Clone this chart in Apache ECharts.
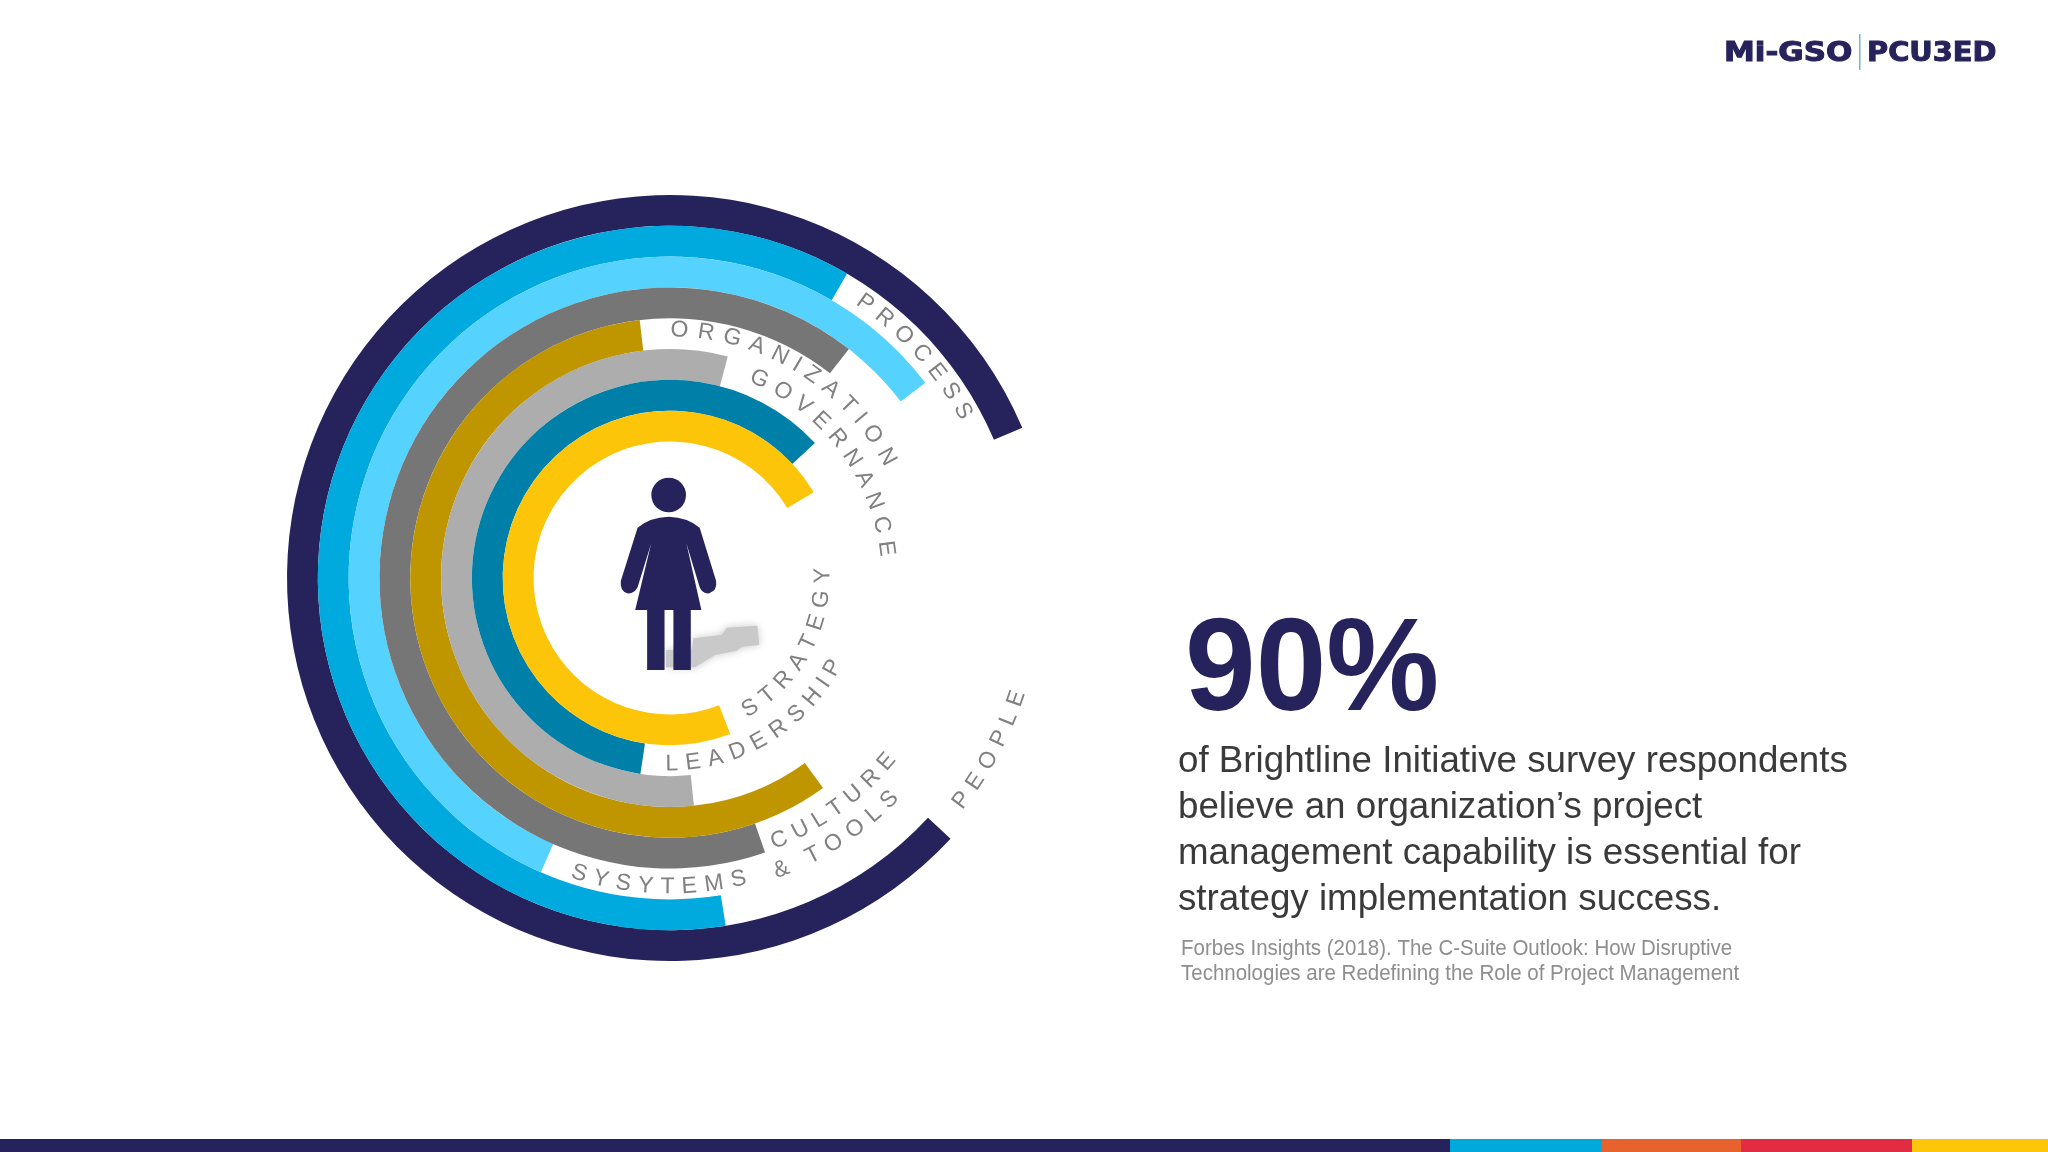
<!DOCTYPE html>
<html><head><meta charset="utf-8">
<style>html,body{margin:0;padding:0;background:#fff}#c{width:2048px;height:1152px}</style>
<script src="https://cdn.jsdelivr.net/npm/echarts@6/dist/echarts.min.js"></script>
</head><body><div id="c"></div>
<script>
// Rings, outermost first. Angles are degrees clockwise from 3 o'clock.
const ringNames  = ['People','Process','Systems','Culture & Tools','Organization','Governance','Leadership','Strategy'];
const ringStart  = [42.9, 80.9, 113.7, 70.9, 53.9, 84.0, 98.6, 68.9];
const ringEnd    = [336.9, 300.2, 322.6, 308.0, 263.3, 284.6, 317.0, 329.2];
const ringColors = ['#26235c','#00a9de','#55d2fe','#767676','#c09600','#adadad','#0080a8','#fcc50a'];

// Curved labels: text, ring radius, angle of first letter, angle of last letter
const arcTexts = ['PEOPLE','PROCESS','SYSYTEMS','CULTURE','& TOOLS','ORGANIZATION','GOVERNANCE','STRATEGY','LEADERSHIP'];
const arcRadii = [367, 337, 309, 284, 312, 248, 218, 153, 186];
const arcFrom  = [37.3, 305.4, 107.1, 67.4, 69.1, 272.2, 294.2, 58.4, 89.4];
const arcTo    = [19.2, 330.3, 77.2, 40.3, 45.3, 330.8, 352.2, -1.0, 28.9];

const bigStat = '90%';
const bodyLines = ['of Brightline Initiative survey respondents','believe an organization\u2019s project','management capability is essential for','strategy implementation success.'];
const sourceLines = ['Forbes Insights (2018). The C-Suite Outlook: How Disruptive','Technologies are Redefining the Role of Project Management'];
const footerStops = [0,1450,1602,1741,1912,2048];
const footerColors = ['#26235c','#00a9dc','#e8622e','#e12c42','#fdc60a'];

const ARC_FONT = '23px "Liberation Sans"';
const mc = document.createElement('canvas').getContext('2d');
mc.font = ARC_FONT;
const letters = [];
arcTexts.forEach((t,i)=>{
  const ch = t.split('');
  const w = ch.map(c=>mc.measureText(c).width);
  const seg = []; let tot = 0;
  for(let k=0;k<ch.length-1;k++){ const s=(w[k]+w[k+1])/2+4; seg.push(s); tot+=s; }
  let acc = 0;
  ch.forEach((c,k)=>{
    const a = arcFrom[i]+(arcTo[i]-arcFrom[i])*(acc/tot);
    if(c!==' ') letters.push({r:arcRadii[i],a:a,c:c,up:arcTo[i]>arcFrom[i]});
    if(k<seg.length) acc+=seg[k];
  });
});

const chart = echarts.init(document.getElementById('c'),null,{renderer:'canvas'});
const graphic = [];
footerColors.forEach((col,i)=>graphic.push({type:'rect',silent:true,shape:{x:footerStops[i],y:1139,width:footerStops[i+1]-footerStops[i],height:13},style:{fill:col}}));
graphic.push({type:'text',x:1185,y:739,scaleY:1.03,style:{text:bigStat,x:0,y:0,verticalAlign:'bottom',fontFamily:'Liberation Sans',fontWeight:'bold',fontSize:127,fill:'#26235c'}});
bodyLines.forEach((l,i)=>graphic.push({type:'text',x:1178,y:780.5+i*46,scaleX:0.993,style:{text:l,x:0,y:0,verticalAlign:'bottom',fontFamily:'Liberation Sans',fontSize:37,fill:'#3a3a3a'}}));
sourceLines.forEach((l,i)=>graphic.push({type:'text',x:1181,y:960+i*25.5,scaleX:0.953,style:{text:l,x:0,y:0,verticalAlign:'bottom',fontFamily:'Liberation Sans',fontSize:21.5,fill:'#8e8e8e'}}));
// Logo
graphic.push({type:'text',x:1724,y:67.5,scaleX:1.19,style:{text:'Mi-GSO',x:0,y:0,verticalAlign:'bottom',fontFamily:'DejaVu Sans',fontWeight:'bold',fontSize:26,fill:'#26235c',stroke:'#26235c',lineWidth:1}});
graphic.push({type:'rect',shape:{x:1859,y:34,width:1.5,height:36},style:{fill:'#6fb8c9'}});
graphic.push({type:'text',x:1867,y:67.5,scaleX:1.11,style:{text:'PCU3ED',x:0,y:0,verticalAlign:'bottom',fontFamily:'DejaVu Sans',fontWeight:'bold',fontSize:26,fill:'#26235c',stroke:'#26235c',lineWidth:1}});

const personPath = 'M175 203 Q210 172 266 170 Q322 172 357 203 L405 362 Q410 390 385 400 Q365 402 357 382 L318 250 L362 450 L331 450 L331 630 L280 630 L280 450 L254 450 L254 630 L203 630 L203 450 L168 450 L215 250 L175 382 Q165 402 145 400 Q122 392 126 362 Z';
const shadowPath = 'M258 570 L335 570 L340 535 L425 525 L440 503 L532 497 L538 555 L485 560 L470 572 L405 585 L345 622 L258 622 Z';

chart.setOption({
  backgroundColor:'#ffffff',
  animation:false,
  polar:[
    {center:[670,578],radius:[136.5,383]},
    {center:[670,578],radius:[0,383]}
  ],
  angleAxis:[
    {polarIndex:0,type:'value',min:0,max:360,startAngle:0,clockwise:true,show:false},
    {polarIndex:1,type:'value',min:0,max:360,startAngle:0,clockwise:true,show:false}
  ],
  radiusAxis:[
    {polarIndex:0,type:'category',data:ringNames,inverse:true,show:false},
    {polarIndex:1,type:'value',min:0,max:383,show:false}
  ],
  series:[
    {type:'bar',coordinateSystem:'polar',polarIndex:0,stack:'ring',name:'offset',barWidth:'100%',silent:true,
      itemStyle:{color:'rgba(0,0,0,0)'},data:ringStart},
    {type:'bar',coordinateSystem:'polar',polarIndex:0,stack:'ring',name:'sweep',barWidth:'100%',silent:true,
      data:ringEnd.map((e,i)=>({value:e-ringStart[i],itemStyle:{color:ringColors[i]}}))},
    {type:'custom',coordinateSystem:'polar',polarIndex:1,silent:true,z:5,
      data:letters.map(l=>[l.r,l.a]),
      renderItem:(p,api)=>{
        const l = letters[p.dataIndex];
        const pt = api.coord([api.value(0),api.value(1)]);
        const th = -api.value(1)*Math.PI/180;
        return {type:'text',x:pt[0],y:pt[1],rotation:l.up?th-Math.PI/2:th+Math.PI/2,
          style:{text:l.c,x:0,y:0,align:'center',verticalAlign:'middle',font:ARC_FONT,fill:'#808080'}};
      }},
    {type:'custom',coordinateSystem:'none',silent:true,z:6,data:[[0]],
      renderItem:()=>({type:'group',x:580,y:460,scaleX:1/3,scaleY:1/3,children:[
        {type:'path',shape:{pathData:shadowPath,x:258,y:497,width:280,height:125,layout:'cover'},style:{fill:'#c9c9c9',shadowBlur:8,shadowColor:'#c9c9c9'}},
        {type:'path',shape:{pathData:personPath,x:122,y:170,width:287,height:460,layout:'cover'},style:{fill:'#26235c'}},
        {type:'circle',shape:{cx:266,cy:105,r:52},style:{fill:'#26235c'}}
      ]})}
  ],
  graphic:graphic
});
</script></body></html>
